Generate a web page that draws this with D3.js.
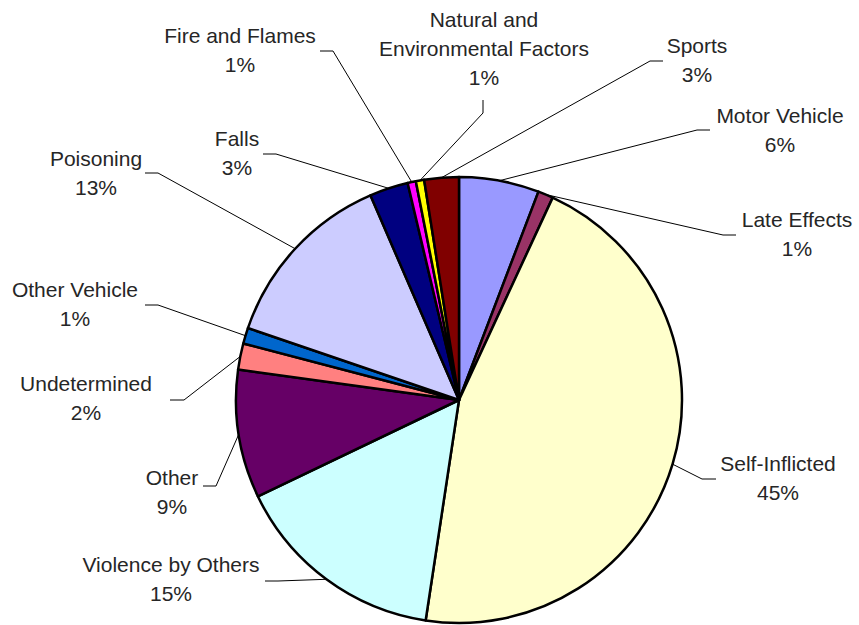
<!DOCTYPE html>
<html>
<head>
<meta charset="utf-8">
<script src="https://cdn.jsdelivr.net/npm/d3@7"></script>
<style>
  body { margin: 0; background: #fff; }
  svg text { font-family: "Liberation Sans", Arial, sans-serif; font-size: 21px; fill: #262626; }
</style>
</head>
<body>
<svg width="859" height="625"></svg>
<script>
// data (percent of injuries), clockwise from 12 o'clock
var categories = ["Motor Vehicle", "Late Effects", "Self-Inflicted", "Violence by Others", "Other",
  "Undetermined", "Other Vehicle", "Poisoning", "Falls", "Fire and Flames",
  "Natural and Environmental Factors", "Sports"];
var values = [5.8, 1.1, 45.49, 15.49, 9.3, 1.9, 1.15, 13.27, 2.8, 0.6, 0.6, 2.5];
var colors = ["#9999FF", "#993366", "#FFFFCC", "#CCFFFF", "#660066", "#FF8080",
  "#0066CC", "#CCCCFF", "#000080", "#FF00FF", "#FFFF00", "#800000"];
// how label names break into lines
var labelLines = [["Motor Vehicle"], ["Late Effects"], ["Self-Inflicted"], ["Violence by Others"], ["Other"],
  ["Undetermined"], ["Other Vehicle"], ["Poisoning"], ["Falls"], ["Fire and Flames"],
  ["Natural and", "Environmental Factors"], ["Sports"]];

// label placement: text centre x, first baseline y, leader start and elbow
var labelLayout = [
  { x: 780, y: 123, p0: [710, 130], p1: [697, 130] },
  { x: 797, y: 227, p0: [736, 235], p1: [723, 235] },
  { x: 778, y: 471, p0: [716, 479], p1: [702, 479] },
  { x: 171, y: 572, p0: [265, 581], p1: [278, 581] },
  { x: 172, y: 485, p0: [203, 486], p1: [216, 486] },
  { x: 86,  y: 391, p0: [170, 400], p1: [184, 400] },
  { x: 75,  y: 297, p0: [145, 305], p1: [158, 305] },
  { x: 96,  y: 166, p0: [145, 173], p1: [158, 173] },
  { x: 237, y: 146, p0: [263, 154], p1: [276, 154] },
  { x: 240, y: 43,  p0: [320, 51],  p1: [333, 51] },
  { x: 484, y: 27,  p0: [483, 100], p1: [483, 113] },
  { x: 697, y: 53,  p0: [663, 61],  p1: [650, 61] }
];

var svg = d3.select("svg"),
    cx = 459, cy = 400, radius = 223,
    lineH = 29;

var total = d3.sum(values);
var pie = d3.pie().sort(null).value(function(d) { return d; });
var arcs = pie(values);
var arc = d3.arc().innerRadius(0).outerRadius(radius);

var g = svg.append("g").attr("transform", "translate(" + cx + "," + cy + ")");

g.selectAll("path")
  .data(arcs)
  .enter().append("path")
    .attr("d", arc)
    .attr("fill", function(d, i) { return colors[i]; })
    .attr("stroke", "#000")
    .attr("stroke-width", 2.5)
    .attr("stroke-linejoin", "round");

// leader lines end on the middle of each slice's rim
svg.selectAll("polyline")
  .data(arcs)
  .enter().append("polyline")
    .attr("fill", "none")
    .attr("stroke", "#000")
    .attr("stroke-width", 1)
    .attr("points", function(d, i) {
      var a = (d.startAngle + d.endAngle) / 2,
          ex = cx + radius * Math.sin(a),
          ey = cy - radius * Math.cos(a),
          L = labelLayout[i];
      return [L.p0, L.p1, [ex, ey]].map(function(p) { return p.join(","); }).join(" ");
    });

var labels = svg.selectAll("text.lbl")
  .data(arcs)
  .enter().append("text")
    .attr("class", "lbl")
    .attr("text-anchor", "middle")
    .attr("x", function(d, i) { return labelLayout[i].x; })
    .attr("y", function(d, i) { return labelLayout[i].y; });

labels.each(function(d, i) {
  var t = d3.select(this);
  var lines = labelLines[i].concat([Math.round(d.value / total * 100) + "%"]);
  lines.forEach(function(s, k) {
    t.append("tspan")
      .attr("x", labelLayout[i].x)
      .attr("dy", k === 0 ? 0 : lineH)
      .text(s);
  });
});
</script>
</body>
</html>
